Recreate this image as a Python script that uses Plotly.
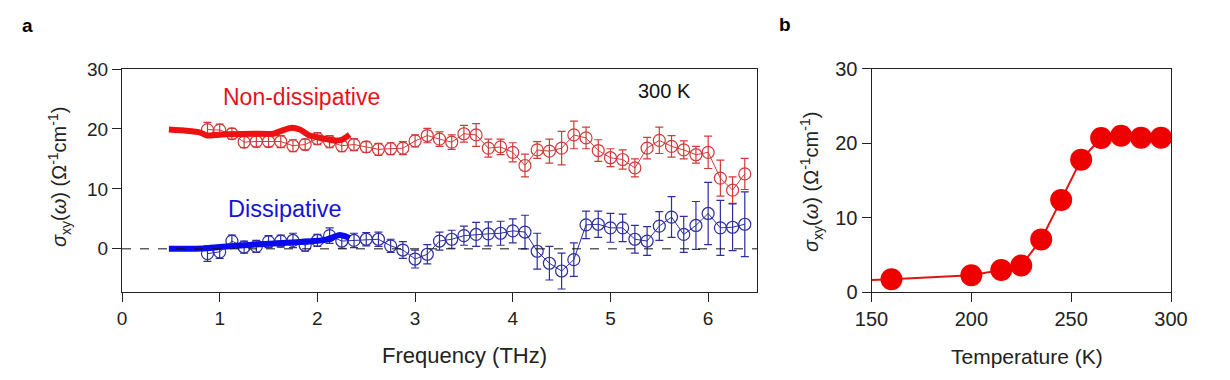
import plotly.graph_objects as go

# ---------------- data ----------------
freq = [0.875, 1.0, 1.125, 1.25, 1.375, 1.5, 1.625, 1.75, 1.875, 2.0, 2.125, 2.25, 2.375, 2.5, 2.625,
        2.75, 2.875, 3.0, 3.125, 3.25, 3.375, 3.5, 3.625, 3.75, 3.875, 4.0, 4.125, 4.25, 4.375, 4.5,
        4.625, 4.75, 4.875, 5.0, 5.125, 5.25, 5.375, 5.5, 5.625, 5.75, 5.875, 6.0, 6.125, 6.25, 6.375]

nondiss = [19.9, 19.8, 19.2, 17.8, 17.9, 17.9, 17.9, 17.2, 17.4, 18.4, 17.9, 17.2, 17.4, 17.0, 16.6,
           16.7, 16.8, 18.0, 18.9, 18.3, 17.8, 19.2, 19.0, 16.8, 17.0, 16.1, 13.9, 16.5, 16.3, 16.8,
           19.0, 18.5, 16.4, 15.2, 14.9, 13.5, 16.8, 18.1, 17.1, 16.5, 15.7, 16.1, 11.8, 9.8, 12.5]
nondiss_err = [1.2, 1.0, 0.9, 0.9, 0.9, 0.9, 1.0, 1.0, 0.9, 1.0, 1.0, 1.0, 1.0, 0.9, 1.0,
               1.0, 1.1, 1.0, 1.2, 1.2, 1.2, 1.4, 1.9, 1.5, 1.3, 1.6, 1.9, 1.4, 2.0, 2.8,
               2.3, 1.8, 1.8, 1.5, 1.6, 1.5, 1.8, 2.2, 1.8, 1.5, 1.4, 2.7, 3.0, 2.2, 2.6]

diss = [-0.8, -0.5, 1.3, 0.3, 0.4, 1.2, 1.3, 1.4, 0.6, 1.4, 2.2, 1.3, 1.4, 1.6, 1.6,
        0.5, -0.2, -1.7, -0.9, 1.3, 1.6, 2.2, 2.4, 2.5, 2.6, 3.0, 2.8, -0.4, -2.4, -3.7,
        -1.8, 4.0, 4.1, 3.5, 3.5, 1.6, 1.3, 3.8, 5.3, 2.4, 3.9, 5.9, 3.5, 3.6, 4.1]
diss_err = [1.3, 1.1, 1.0, 1.0, 1.0, 1.0, 1.0, 1.2, 1.0, 1.0, 1.3, 1.2, 1.2, 1.1, 1.2,
            1.1, 1.4, 1.5, 1.6, 1.5, 1.5, 1.6, 2.0, 2.0, 2.0, 2.0, 2.8, 3.0, 2.8, 3.0,
            2.8, 2.3, 2.2, 2.4, 2.3, 2.3, 2.4, 2.4, 3.4, 3.0, 4.0, 5.2, 4.6, 3.9, 5.4]

line_freq = [0.48, 0.66, 0.80, 0.87, 1.0, 1.34, 1.55, 1.65, 1.74, 1.82, 1.92, 2.03, 2.16, 2.25, 2.33]
line_nondiss = [19.9, 19.7, 19.4, 18.9, 19.05, 19.2, 19.2, 19.8, 20.2, 19.9, 18.9, 18.5, 18.1, 18.2, 19.05]
line_diss_freq = [0.48, 0.83, 1.0, 1.34, 1.68, 1.96, 2.10, 2.23, 2.33]
line_diss = [0.0, 0.05, 0.3, 0.7, 1.0, 1.3, 1.55, 2.3, 1.8]

temperature = [150, 160, 200, 215, 225, 235, 245, 255, 265, 275, 285, 295]
sigma_T = [1.65, 1.75, 2.3, 3.0, 3.6, 7.1, 12.4, 17.8, 20.7, 21.0, 20.75, 20.75]

freq_ticks = [0, 1, 2, 3, 4, 5, 6]
sig_ticks = [0, 10, 20, 30]
temp_ticks = [150, 200, 250, 300]

# ---------------- styling ----------------
W, H = 1230, 380
OFF = 8  # page body margin offset
FONT = "Liberation Sans, Arial, sans-serif"
RED_C = "#d23a3a"
BLUE_C = "#2e2ea0"
RED_L = "#ee1111"
BLUE_L = "#0a0af0"
AX = "#222222"

def px(x):
    return (x - OFF) / W

def py(y):
    return 1 - (y - OFF) / H

fig = go.Figure()

# panel a: open circles with error bars
fig.add_trace(go.Scatter(
    x=freq, y=nondiss, mode="lines+markers", xaxis="x", yaxis="y",
    line=dict(color=RED_C, width=1),
    marker=dict(symbol="circle-open", size=12, color=RED_C, line=dict(width=1.2)),
    error_y=dict(type="data", array=nondiss_err, color=RED_C, thickness=1.2, width=4),
    showlegend=False))
fig.add_trace(go.Scatter(
    x=freq, y=diss, mode="lines+markers", xaxis="x", yaxis="y",
    line=dict(color=BLUE_C, width=1),
    marker=dict(symbol="circle-open", size=12, color=BLUE_C, line=dict(width=1.2)),
    error_y=dict(type="data", array=diss_err, color=BLUE_C, thickness=1.2, width=4),
    showlegend=False))
# thick lines
fig.add_trace(go.Scatter(
    x=line_freq, y=line_nondiss, mode="lines", xaxis="x", yaxis="y",
    line=dict(color=RED_L, width=6, shape="spline", smoothing=0.6), showlegend=False))
fig.add_trace(go.Scatter(
    x=line_diss_freq, y=line_diss, mode="lines", xaxis="x", yaxis="y",
    line=dict(color=BLUE_L, width=6, shape="spline", smoothing=0.6), showlegend=False))

# panel b
fig.add_trace(go.Scatter(
    x=temperature, y=sigma_T, mode="lines", xaxis="x2", yaxis="y2",
    line=dict(color="#dd1515", width=2), showlegend=False, cliponaxis=True))
fig.add_trace(go.Scatter(
    x=temperature[1:], y=sigma_T[1:], mode="markers", xaxis="x2", yaxis="y2",
    marker=dict(symbol="circle", size=22, color="#ee0000"), showlegend=False))

axis_common = dict(showline=True, linecolor=AX, linewidth=1, mirror=True, ticks="outside",
                   ticklen=9, tickcolor=AX, tickwidth=1, showgrid=False, zeroline=False,
                   automargin=False,
                   tickfont=dict(family=FONT, size=19, color="#222222"))

fig.update_layout(
    width=W, height=H, margin=dict(l=0, r=0, t=0, b=0, pad=0, autoexpand=False),
    paper_bgcolor="white", plot_bgcolor="white",
    font=dict(family=FONT, color="#222222"),
    xaxis=dict(domain=[px(122), px(757)], range=[0, 6.5], tickvals=freq_ticks,
               anchor="y", **axis_common),
    yaxis=dict(domain=[py(292), py(69)], range=[-7.2, 30], tickvals=sig_ticks,
               anchor="x", **axis_common),
    xaxis2=dict(domain=[px(871.5), px(1171)], range=[150, 300], tickvals=temp_ticks,
                anchor="y2", **axis_common),
    yaxis2=dict(domain=[py(292.3), py(68.7)], range=[0, 30], tickvals=sig_ticks,
                anchor="x2", **axis_common),
)
fig.update_xaxes(tickfont=dict(size=20), selector=dict(anchor="y2"))
fig.update_yaxes(tickfont=dict(size=20), selector=dict(anchor="x2"))

# dashed zero line in panel a
fig.add_shape(type="line", xref="x domain", yref="y", x0=0, x1=1, y0=0, y1=0,
              line=dict(color="#111111", width=1, dash="dash"))

ylab = "<i>σ</i><sub>xy</sub>(<i>ω</i>) (Ω<sup>-1</sup>cm<sup>-1</sup>)"

annotations = [
    dict(text="<b>a</b>", x=px(27), y=py(25), font=dict(size=19, color="black")),
    dict(text="<b>b</b>", x=px(785), y=py(24), font=dict(size=19, color="black")),
    dict(text=ylab, x=px(60), y=py(177), textangle=-90, font=dict(size=20)),
    dict(text=ylab, x=px(811), y=py(182), textangle=-90, font=dict(size=20)),
    dict(text="Frequency (THz)", x=px(464), y=py(355), font=dict(size=22)),
    dict(text="Temperature (K)", x=px(1027), y=py(356), font=dict(size=21)),
    dict(text="Non-dissipative", x=px(301), y=py(97), font=dict(size=23, color="#e8121a")),
    dict(text="Dissipative", x=px(285), y=py(209), font=dict(size=23.5, color="#1414d8")),
    dict(text="300 K", x=px(664), y=py(91), font=dict(size=20, color="#111111")),
]
for a in annotations:
    a.update(xref="paper", yref="paper", showarrow=False, xanchor="center", yanchor="middle")
    a["font"] = dict(family=FONT, **a["font"])
fig.update_layout(annotations=annotations)

fig.write_html("out.html")
